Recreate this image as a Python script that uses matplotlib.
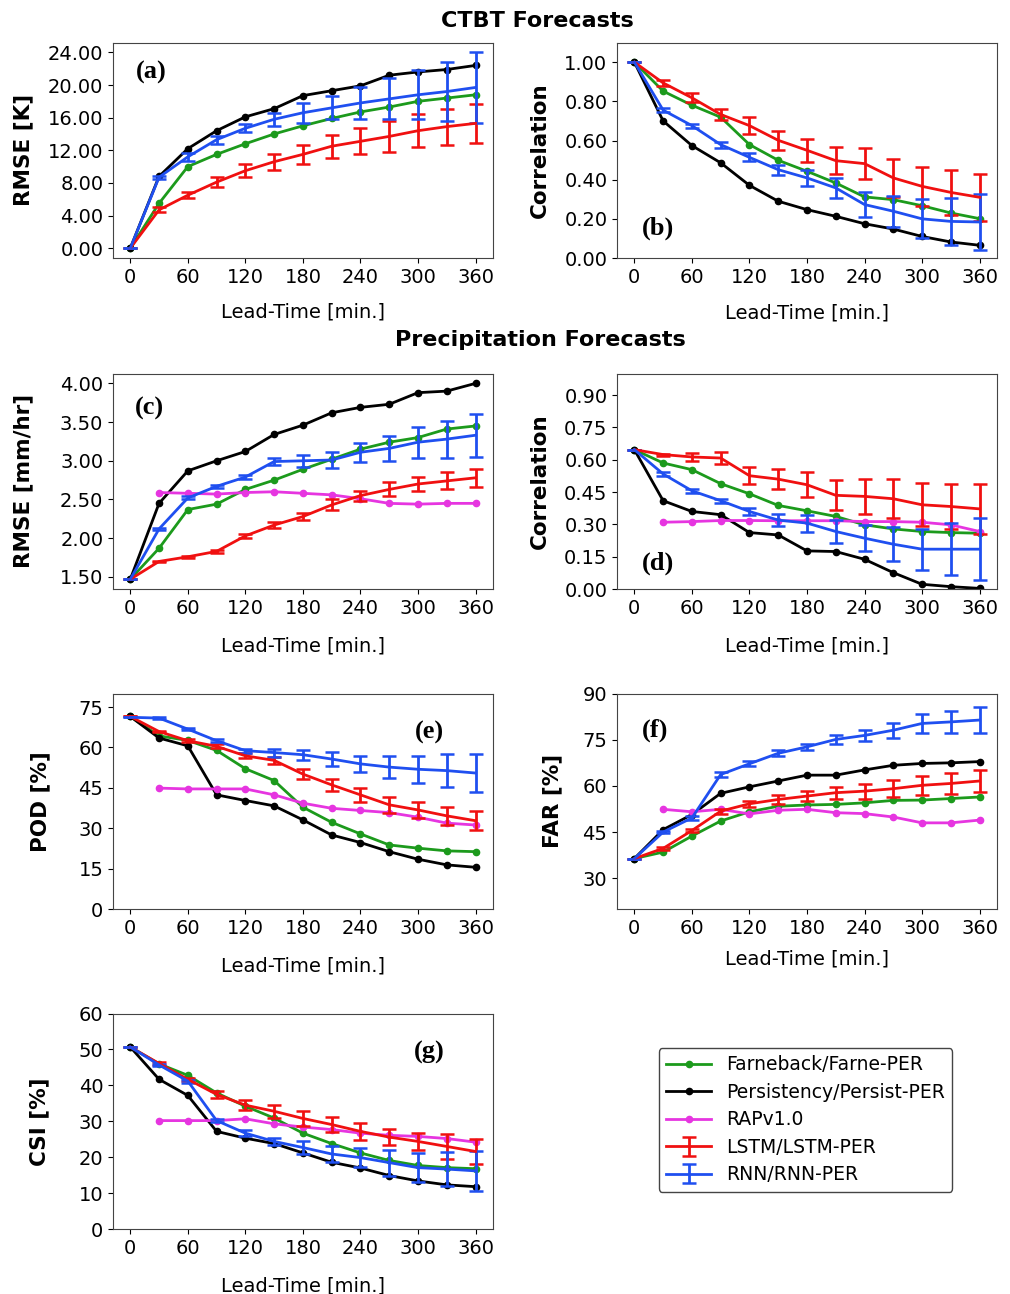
import numpy as np
import matplotlib
matplotlib.use('Agg')
import matplotlib.pyplot as plt

# lead times
lead = [0, 30, 60, 90, 120, 150, 180, 210, 240, 270, 300, 330, 360]
lead_rap = lead[1:]

# (a) CTBT RMSE [K]
a_farne = [0, 5.5, 10.0, 11.5, 12.8, 14.0, 15.0, 15.9, 16.7, 17.3, 18.0, 18.4, 18.8]
a_persist = [0, 8.8, 12.2, 14.4, 16.1, 17.1, 18.7, 19.3, 19.9, 21.2, 21.6, 21.9, 22.4]
a_lstm = [0, 4.7, 6.5, 8.1, 9.5, 10.6, 11.5, 12.5, 13.1, 13.7, 14.4, 14.9, 15.3]
a_lstm_err = [0, 0.3, 0.4, 0.6, 0.8, 1.0, 1.2, 1.4, 1.6, 1.9, 2.0, 2.2, 2.4]
a_rnn = [0, 8.7, 11.2, 13.3, 14.7, 15.8, 16.6, 17.2, 17.8, 18.3, 18.8, 19.2, 19.7]
a_rnn_err = [0, 0.2, 0.5, 0.5, 0.5, 0.8, 1.2, 1.4, 2.0, 2.5, 3.0, 3.6, 4.3]

# (b) CTBT correlation
b_farne = [1.0, 0.852, 0.78, 0.719, 0.579, 0.499, 0.443, 0.383, 0.312, 0.298, 0.267, 0.23, 0.201]
b_persist = [1.0, 0.70, 0.574, 0.486, 0.371, 0.29, 0.247, 0.213, 0.175, 0.148, 0.11, 0.082, 0.065]
b_lstm = [1.0, 0.894, 0.818, 0.733, 0.676, 0.601, 0.55, 0.497, 0.482, 0.409, 0.366, 0.335, 0.31]
b_lstm_err = [0, 0.015, 0.022, 0.03, 0.042, 0.05, 0.06, 0.07, 0.08, 0.098, 0.10, 0.115, 0.12]
b_rnn = [1.0, 0.755, 0.676, 0.579, 0.514, 0.451, 0.409, 0.358, 0.273, 0.239, 0.20, 0.187, 0.184]
b_rnn_err = [0, 0.01, 0.01, 0.015, 0.02, 0.025, 0.04, 0.05, 0.066, 0.08, 0.10, 0.12, 0.145]

# (c) precipitation RMSE [mm/hr]
c_farne = [1.47, 1.87, 2.37, 2.44, 2.63, 2.75, 2.89, 3.02, 3.15, 3.24, 3.30, 3.41, 3.45]
c_persist = [1.47, 2.45, 2.87, 3.0, 3.12, 3.34, 3.46, 3.62, 3.69, 3.73, 3.88, 3.90, 4.0]
c_rap = [2.59, 2.58, 2.57, 2.59, 2.60, 2.58, 2.56, 2.51, 2.45, 2.44, 2.45, 2.45]
c_lstm = [1.47, 1.70, 1.76, 1.83, 2.03, 2.17, 2.28, 2.43, 2.55, 2.63, 2.70, 2.74, 2.78]
c_lstm_err = [0, 0.01, 0.01, 0.02, 0.03, 0.04, 0.05, 0.07, 0.065, 0.09, 0.09, 0.11, 0.12]
c_rnn = [1.47, 2.12, 2.52, 2.67, 2.79, 2.99, 3.0, 3.01, 3.11, 3.16, 3.24, 3.28, 3.33]
c_rnn_err = [0, 0.01, 0.02, 0.02, 0.025, 0.05, 0.08, 0.1, 0.12, 0.16, 0.2, 0.24, 0.28]

# (d) precipitation correlation
d_farne = [0.647, 0.585, 0.554, 0.489, 0.442, 0.388, 0.363, 0.337, 0.298, 0.279, 0.267, 0.262, 0.259]
d_persist = [0.647, 0.41, 0.36, 0.345, 0.262, 0.251, 0.177, 0.174, 0.138, 0.076, 0.022, 0.011, 0.003]
d_rap = [0.31, 0.313, 0.318, 0.318, 0.317, 0.317, 0.317, 0.313, 0.313, 0.31, 0.298, 0.267]
d_lstm = [0.647, 0.624, 0.613, 0.608, 0.526, 0.51, 0.484, 0.435, 0.43, 0.419, 0.391, 0.383, 0.372]
d_lstm_err = [0, 0.005, 0.018, 0.03, 0.04, 0.046, 0.058, 0.07, 0.08, 0.09, 0.1, 0.105, 0.115]
d_rnn = [0.647, 0.534, 0.456, 0.41, 0.36, 0.32, 0.306, 0.267, 0.236, 0.208, 0.185, 0.185, 0.185]
d_rnn_err = [0, 0.01, 0.01, 0.01, 0.015, 0.026, 0.039, 0.054, 0.06, 0.08, 0.095, 0.12, 0.145]

# (e) POD [%]
e_farne = [71.5, 64.3, 62.6, 58.9, 52.1, 47.7, 37.8, 32.2, 27.9, 23.8, 22.6, 21.6, 21.3]
e_persist = [71.5, 63.5, 60.6, 42.4, 40.3, 38.3, 33.1, 27.5, 24.7, 21.3, 18.5, 16.4, 15.5]
e_rap = [44.9, 44.6, 44.6, 44.6, 42.4, 39.3, 37.4, 36.6, 35.8, 34.1, 31.9, 31.2]
e_lstm = [71.5, 65.9, 62.5, 60.4, 56.9, 55.2, 50.1, 46.1, 42.4, 38.7, 36.8, 34.6, 32.8]
e_lstm_err = [0, 0.3, 0.5, 0.7, 1.0, 1.4, 1.9, 2.2, 2.6, 2.9, 3.1, 3.4, 3.6]
e_rnn = [71.2, 70.9, 66.8, 62.5, 58.8, 58.1, 57.3, 55.7, 53.9, 52.7, 51.9, 51.4, 50.5]
e_rnn_err = [0, 0.3, 0.4, 0.5, 0.8, 1.5, 1.9, 2.6, 3.0, 4.1, 5.0, 6.0, 7.1]

# (f) FAR [%]
f_farne = [36.4, 38.5, 43.7, 48.6, 51.6, 53.4, 53.8, 54.0, 54.5, 55.3, 55.4, 55.9, 56.4]
f_persist = [36.4, 45.8, 50.7, 57.6, 59.7, 61.6, 63.5, 63.5, 65.2, 66.7, 67.3, 67.5, 67.9]
f_rap = [52.4, 51.6, 52.4, 50.9, 52.1, 52.4, 51.3, 51.0, 49.9, 48.0, 48.0, 48.9]
f_lstm = [36.4, 39.7, 45.5, 51.8, 54.2, 55.6, 56.7, 57.8, 58.3, 59.1, 60.2, 60.8, 61.6]
f_lstm_err = [0, 0.4, 0.6, 0.8, 1.0, 1.5, 1.6, 2.0, 2.4, 2.8, 3.1, 3.4, 3.7]
f_rnn = [36.4, 45.0, 49.6, 63.7, 67.2, 70.6, 72.7, 75.1, 76.4, 78.1, 80.3, 80.8, 81.4]
f_rnn_err = [0, 0.3, 0.6, 0.8, 0.8, 1.0, 1.0, 1.4, 1.9, 2.4, 3.1, 3.7, 4.3]

# (g) CSI [%]
g_farne = [50.7, 46.0, 42.8, 37.9, 34.2, 30.9, 26.7, 23.8, 21.2, 19.1, 17.7, 17.1, 16.8]
g_persist = [50.7, 41.7, 37.2, 27.2, 25.3, 23.8, 21.2, 18.6, 17.0, 14.9, 13.4, 12.3, 11.8]
g_rap = [30.2, 30.2, 30.2, 30.7, 29.3, 28.4, 27.7, 26.7, 26.1, 25.8, 25.2, 24.2]
g_lstm = [50.7, 46.1, 41.7, 37.5, 34.5, 32.8, 30.8, 29.1, 27.2, 25.6, 24.4, 23.0, 21.6]
g_lstm_err = [0, 0.4, 0.5, 1.0, 1.4, 1.8, 2.0, 2.0, 2.3, 2.3, 2.3, 3.4, 3.6]
g_rnn = [50.7, 45.7, 41.2, 30.2, 26.7, 24.4, 22.7, 20.9, 19.9, 18.5, 17.1, 16.7, 16.2]
g_rnn_err = [0, 0.3, 0.4, 0.5, 0.8, 1.0, 1.9, 2.3, 2.6, 3.6, 4.0, 4.7, 5.6]

names = ['Farneback/Farne-PER', 'Persistency/Persist-PER', 'RAPv1.0',
         'LSTM/LSTM-PER', 'RNN/RNN-PER']
c_green = '#1c9a1c'
c_black = 'black'
c_mag = '#e635e0'
c_red = '#f01010'
c_blue = '#1f4ff0'

plt.rcParams['font.family'] = 'DejaVu Sans'
plt.rcParams['axes.edgecolor'] = '#444444'

fig = plt.figure(figsize=(10.1, 12.94), dpi=100)

left_x = 0.1119
right_x = 0.611
w = 0.376
h = 0.1665
rows = [0.8006, 0.5448, 0.2975, 0.0502]

# tag, x, y, data..., ylabel, yticks, ylim, fmt, tag pos, ylabel x, xlabel y
panels = [
    ('(a)', left_x, rows[0], a_farne, a_persist, None, a_lstm, a_lstm_err, a_rnn, a_rnn_err,
     'RMSE [K]', np.arange(0, 24.1, 4), None, '%.2f', (0.10, 0.86), -0.21, -0.208),
    ('(b)', right_x, rows[0], b_farne, b_persist, None, b_lstm, b_lstm_err, b_rnn, b_rnn_err,
     'Correlation', np.arange(0, 1.01, 0.2), (0, 1.1), '%.2f', (0.108, 0.14), -0.176, -0.213),
    ('(c)', left_x, rows[1], c_farne, c_persist, c_rap, c_lstm, c_lstm_err, c_rnn, c_rnn_err,
     'RMSE [mm/hr]', np.arange(1.5, 4.01, 0.5), None, '%.2f', (0.097, 0.84), -0.21, -0.219),
    ('(d)', right_x, rows[1], d_farne, d_persist, d_rap, d_lstm, d_lstm_err, d_rnn, d_rnn_err,
     'Correlation', np.arange(0, 0.91, 0.15), (0, 1.0), '%.2f', (0.108, 0.12), -0.176, -0.219),
    ('(e)', left_x, rows[2], e_farne, e_persist, e_rap, e_lstm, e_lstm_err, e_rnn, e_rnn_err,
     'POD [%]', np.arange(0, 76, 15), (0, 80), '%d', (0.834, 0.82), -0.166, -0.219),
    ('(f)', right_x, rows[2], f_farne, f_persist, f_rap, f_lstm, f_lstm_err, f_rnn, f_rnn_err,
     'FAR [%]', np.arange(30, 91, 15), (20, 90), '%d', (0.10, 0.83), -0.144, -0.19),
    ('(g)', left_x, rows[3], g_farne, g_persist, g_rap, g_lstm, g_lstm_err, g_rnn, g_rnn_err,
     'CSI [%]', np.arange(0, 61, 10), (0, 60), '%d', (0.834, 0.82), -0.168, -0.219),
]

handles = None
for (tag, x0, y0, farne, persist, rap, lstm, lstm_err, rnn, rnn_err,
     ylab, yt, ylim, fmt, tagpos, ylx, xly) in panels:
    ax = fig.add_axes([x0, y0, w, h])
    h1, = ax.plot(lead, farne, '-o', color=c_green, lw=2, ms=4.5)
    h2, = ax.plot(lead, persist, '-o', color=c_black, lw=2, ms=4.5)
    if rap is not None:
        h3, = ax.plot(lead_rap, rap, '-o', color=c_mag, lw=2, ms=4.5)
    h4 = ax.errorbar(lead, lstm, yerr=lstm_err, color=c_red, lw=2, elinewidth=2, capsize=5, capthick=1.8)
    h5 = ax.errorbar(lead, rnn, yerr=rnn_err, color=c_blue, lw=2, elinewidth=2, capsize=5, capthick=1.8)
    if rap is not None and handles is None:
        handles = [h1, h2, h3, h4, h5]
    ax.set_xticks(range(0, 361, 60))
    ax.set_yticks(yt)
    ax.yaxis.set_major_formatter(matplotlib.ticker.FormatStrFormatter(fmt))
    if ylim is not None:
        ax.set_ylim(ylim)
    ax.tick_params(labelsize=14)
    ax.set_xlabel('Lead-Time [min.]', fontsize=14)
    ax.set_ylabel(ylab, fontsize=15.5, fontweight='bold')
    ax.yaxis.set_label_coords(ylx, 0.5)
    ax.xaxis.set_label_coords(0.5, xly)
    ax.text(tagpos[0], tagpos[1], tag, transform=ax.transAxes, ha='center', va='center',
            fontsize=19, fontweight='bold', family='Liberation Serif')

fig.text(0.532, 0.984, 'CTBT Forecasts', ha='center', va='center', fontsize=16, fontweight='bold')
fig.text(0.535, 0.737, 'Precipitation Forecasts', ha='center', va='center', fontsize=16, fontweight='bold')

fig.legend(handles, names, loc='upper left', bbox_to_anchor=(0.652, 1 - 1048 / 1294),
           borderaxespad=0, fontsize=13.5, handlelength=2.4, labelspacing=0.45, frameon=True,
           edgecolor='#444444', fancybox=True, framealpha=1)

fig.savefig('out.png', dpi=100)
